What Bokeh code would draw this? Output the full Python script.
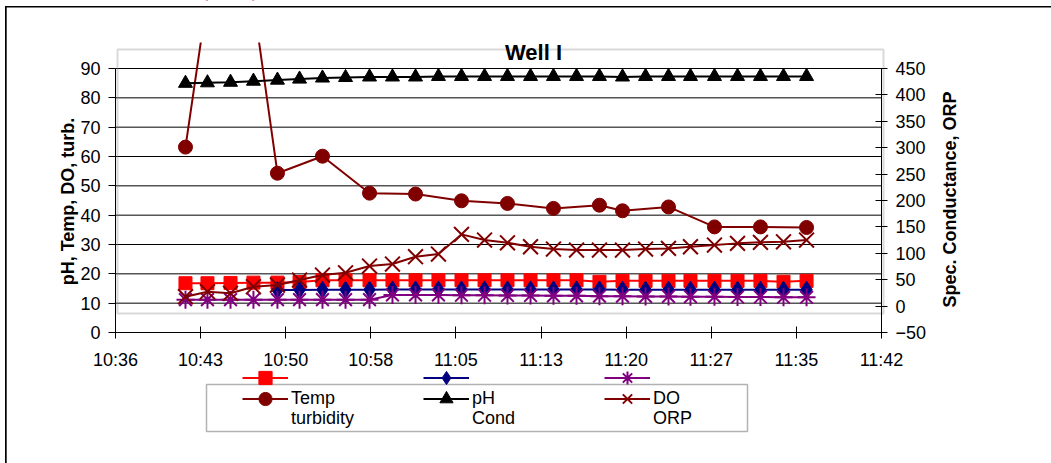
import numpy as np
from bokeh.plotting import figure
from bokeh.models import (Range1d, LinearAxis, FixedTicker, ColumnDataSource, Legend,
                          LegendItem, BoxAnnotation, Label)
from bokeh.embed import file_html
from bokeh.resources import INLINE

# ---------------- data ----------------
tick_labels = ["10:36", "10:43", "10:50", "10:58", "11:05", "11:13", "11:20", "11:27", "11:35", "11:42"]
tick_seconds = [0, 432, 864, 1296, 1728, 2160, 2592, 3024, 3456, 3888]   # seconds after axis start

# reading times, minutes after the axis start (10:36)
minutes = [5.92, 7.78, 9.73, 11.67, 13.70, 15.57, 17.51, 19.46, 21.49, 23.43, 25.38, 27.32,
           29.27, 31.22, 33.16, 35.11, 37.05, 39.00, 40.94, 42.89, 44.84, 46.78, 48.64,
           50.67, 52.62, 54.56, 56.51, 58.46]

temp = [16.8, 16.8, 16.9, 17.0, 17.0, 17.2, 17.8, 17.8, 17.8, 17.8, 17.8, 17.8, 17.8, 17.8,
        17.8, 17.8, 17.8, 17.8, 17.3, 17.6, 17.6, 17.6, 17.6, 17.6, 17.6, 17.6, 17.3, 17.6]
ph = [None, None, None, None, 14.5, 14.5, 14.6, 14.6, 14.6, 14.7, 14.7, 14.7, 14.7, 14.7,
      14.7, 14.7, 14.7, 14.7, 14.7, 14.6, 14.6, 14.6, 14.6, 14.6, 14.6, 14.6, 14.6, 14.6]
do = [11.2, 11.2, 11.2, 11.2, 11.2, 11.2, 11.2, 11.2, 11.2, 12.8, 12.8, 12.8, 12.7, 12.7,
      12.6, 12.6, 12.5, 12.5, 12.4, 12.4, 12.3, 12.3, 12.2, 12.2, 12.1, 12.1, 12.0, 12.0]
cond = [422, 423, 424, 426, 428, 430, 432, 433, 434, 434, 434, 435, 435, 435,
        435, 435, 435, 435, 435, 434, 435, 435, 435, 435, 435, 435, 435, 435]
orp = [17.8, 27.2, 24.2, 36.7, 39.9, 49.4, 58.8, 63.0, 75.9, 79.6, 93.5, 98.6, 135.8, 125.1,
       119.9, 112.4, 108.0, 106.1, 106.1, 106.1, 108.0, 109.3, 112.4, 115.6, 118.8, 120.7,
       121.8, 125.1]
turb_idx = [0, 2, 4, 6, 8, 10, 12, 14, 16, 18, 19, 21, 23, 25, 27]
turbidity = [63.2, 168.3, 54.3, 60.1, 47.5, 47.2, 44.9, 44.0, 42.3, 43.4, 41.5, 42.8,
             36.0, 36.0, 35.8]

left_ticks = [0, 10, 20, 30, 40, 50, 60, 70, 80, 90]
right_ticks = [-50, 0, 50, 100, 150, 200, 250, 300, 350, 400, 450]

# ---------------- layout (page pixels) ----------------
OX, OY = 0, 0                       # canvas origin on the page
W, H = 1060, 472                    # canvas size (its edges fall just outside the window)
AX_L, AX_R = 115, 881               # x axis ends (10:36 .. 11:42)
AX_B, AX_T = 332, 68                # y axis ends (0 / -50 .. 90 / 450)
CLIP_T = 42                         # top of the drawing area of the series

px_s = (AX_R - AX_L) / tick_seconds[-1]
px_1 = (AX_B - AX_T) / 90
px_2 = (AX_B - AX_T) / 500
x0 = -(AX_L - OX) / px_s
x1 = (OX + W - AX_L) / px_s
y0 = -(OY + H - AX_B) / px_1
y1 = (AX_B - OY) / px_1
y20 = -50 - (OY + H - AX_B) / px_2
y21 = -50 + (AX_B - OY) / px_2

FONT = "Liberation Sans"

p = figure(width=W, height=H, x_range=Range1d(x0, x1), y_range=Range1d(y0, y1),
           output_backend="svg", toolbar_location=None, title=None,
           min_border_left=0, min_border_right=0, min_border_top=0, min_border_bottom=0)
p.outline_line_color = None
p.outline_line_alpha = 0
p.background_fill_color = "white"
p.border_fill_color = "white"
p.extra_y_ranges = {"sec": Range1d(y20, y21)}
p.xgrid.visible = False
p.ygrid.visible = False

# axes, drawn at fixed places inside the full-canvas frame
xa = p.xaxis[0]
xa.fixed_location = 0
xa.ticker = FixedTicker(ticks=tick_seconds)
xa.major_label_overrides = {t: l for t, l in zip(tick_seconds, tick_labels)}
xa.bounds = (tick_seconds[0], tick_seconds[-1])
ya = p.yaxis[0]
ya.fixed_location = tick_seconds[0]
ya.ticker = FixedTicker(ticks=left_ticks)
ya.bounds = (left_ticks[0], left_ticks[-1])
ya.major_tick_in = 0
ya.major_tick_out = 7
ax2 = LinearAxis(y_range_name="sec", ticker=FixedTicker(ticks=right_ticks),
                 bounds=(right_ticks[0], right_ticks[-1]), fixed_location=tick_seconds[-1])
p.add_layout(ax2, "right")
for ax in (xa, ya, ax2):
    ax.axis_line_color = "black"
    ax.axis_line_width = 1
    ax.major_tick_line_color = "black"
    ax.minor_tick_line_color = None
    ax.major_label_text_font = FONT
    ax.major_label_text_font_size = "18px"
    ax.major_label_text_color = "black"
    ax.major_label_standoff = 8
for ax in (xa, ax2):
    ax.major_tick_in = 6
    ax.major_tick_out = 6
xa.major_label_standoff = 11

# horizontal grid lines between the axis ends
p.segment(x0=[tick_seconds[0]] * 9, x1=[tick_seconds[-1]] * 9, y0=left_ticks[1:], y1=left_ticks[1:],
          line_color="black", line_width=1, level="underlay")

# grey plot-area box (offset, as in the original)
p.add_layout(BoxAnnotation(left=(117 - AX_L) / px_s, right=(883 - AX_L) / px_s,
                           top=(AX_B - 49) / px_1, bottom=(AX_B - 313) / px_1,
                           fill_alpha=0, line_color="#808080", line_width=2, level="underlay"))

# ---------------- series ----------------
t_sec = [m * 60 for m in minutes]
src = ColumnDataSource(dict(t=t_sec, temp=temp, ph=np.array(ph, dtype=float), do=do,
                            cond=cond, orp=orp))
tsrc = ColumnDataSource(dict(t=[t_sec[i] for i in turb_idx], v=turbidity))

RED, NAVY, PURPLE, MAROON = "#FF0000", "#000080", "#800080", "#800000"

r_temp_l = p.line("t", "temp", source=src, line_color=RED, line_width=2)
r_temp_m = p.scatter("t", "temp", source=src, marker="square", size=13, fill_color=RED, line_color=RED)
r_ph_l = p.line("t", "ph", source=src, line_color=NAVY, line_width=2)
r_ph_m = p.scatter("t", "ph", source=src, marker="diamond", size=17, fill_color=NAVY, line_color=NAVY)
r_do_l = p.line("t", "do", source=src, line_color=PURPLE, line_width=2)
r_do_m = p.scatter("t", "do", source=src, marker="asterisk", size=18, line_color=PURPLE, line_width=2)
r_tu_l = p.line("t", "v", source=tsrc, line_color=MAROON, line_width=2)
r_tu_m = p.scatter("t", "v", source=tsrc, marker="circle", size=14, fill_color=MAROON, line_color=MAROON)
r_co_l = p.line("t", "cond", source=src, y_range_name="sec", line_color="black", line_width=2)
r_co_m = p.scatter("t", "cond", source=src, y_range_name="sec", marker="triangle", size=14,
                   fill_color="black", line_color="black")
r_or_l = p.line("t", "orp", source=src, y_range_name="sec", line_color=MAROON, line_width=2)
r_or_m = p.scatter("t", "orp", source=src, y_range_name="sec", marker="x", size=21,
                   line_color=MAROON, line_width=2)
r_blank = p.line(x=[np.nan], y=[np.nan], line_alpha=0)


def canvas_box(left, right, top, bottom, **kw):
    return BoxAnnotation(left=left - OX, right=right - OX, top=top - OY, bottom=bottom - OY,
                         left_units="canvas", right_units="canvas",
                         top_units="canvas", bottom_units="canvas", level="overlay", **kw)


WHITE = dict(fill_color="white", fill_alpha=1, line_alpha=0, line_color=None)

# white mask above the drawing area (the original clips the series there)
p.add_layout(canvas_box(OX, OX + W, OY, CLIP_T, **WHITE))

# ---------------- legends ----------------
def mk_legend(items, left, center_y, gh):
    return Legend(items=items, location=(left - OX, OY + H - (center_y + gh / 2)),
                  orientation="horizontal", glyph_width=46, glyph_height=gh,
                  label_width=132, label_height=20, label_standoff=3, spacing=0,
                  padding=0, margin=0, border_line_color=None, background_fill_alpha=0,
                  label_text_font=FONT, label_text_font_size="18px", label_text_color="black")

legA = mk_legend([LegendItem(label=" ", renderers=[r_temp_l, r_temp_m]),
                  LegendItem(label=" ", renderers=[r_ph_l, r_ph_m]),
                  LegendItem(label=" ", renderers=[r_do_l, r_do_m])], 242, 377.3, 33)
legB1 = mk_legend([LegendItem(label="Temp", renderers=[r_tu_l, r_tu_m]),
                   LegendItem(label="pH", renderers=[r_co_l, r_co_m]),
                   LegendItem(label="DO", renderers=[r_or_l, r_or_m])], 242, 398.5, 33)
legB2 = mk_legend([LegendItem(label="turbidity", renderers=[r_blank]),
                   LegendItem(label="Cond", renderers=[r_blank]),
                   LegendItem(label="ORP", renderers=[r_blank])], 242, 419, 20)
for lg in (legA, legB1, legB2):
    p.add_layout(lg)

# legend box
p.add_layout(canvas_box(206, 747, 384, 431, fill_alpha=0, line_color="black", line_width=1.5))

# outer chart border: only its left and top edges are inside the picture
p.add_layout(canvas_box(4.5, 6.2, 5.5, OY + H, fill_color="black", fill_alpha=1,
                        line_alpha=0, line_color=None))
p.add_layout(canvas_box(4.5, OX + W, 5.5, 7.0, fill_color="black", fill_alpha=1,
                        line_alpha=0, line_color=None))

# ---------------- titles ----------------
def sx(px):
    return px - OX


def sy(py):
    return OY + H - py


p.add_layout(Label(x=sx(533), y=sy(52), x_units="screen", y_units="screen", text="Well I",
                   text_font=FONT, text_font_style="bold", text_font_size="22px",
                   text_align="center", text_baseline="alphabetic", text_color="black"))
p.add_layout(Label(x=sx(67), y=sy(201), x_units="screen", y_units="screen",
                   text="pH, Temp, DO, turb.", angle=np.pi / 2,
                   text_font=FONT, text_font_style="bold", text_font_size="18px",
                   text_align="center", text_baseline="alphabetic", text_color="black"))
p.add_layout(Label(x=sx(949), y=sy(199), x_units="screen", y_units="screen",
                   text="Spec. Conductance, ORP", angle=np.pi / 2,
                   text_font=FONT, text_font_style="bold", text_font_size="18px",
                   text_align="center", text_baseline="alphabetic", text_color="black"))

open("out.html", "w").write(file_html(p, INLINE))
